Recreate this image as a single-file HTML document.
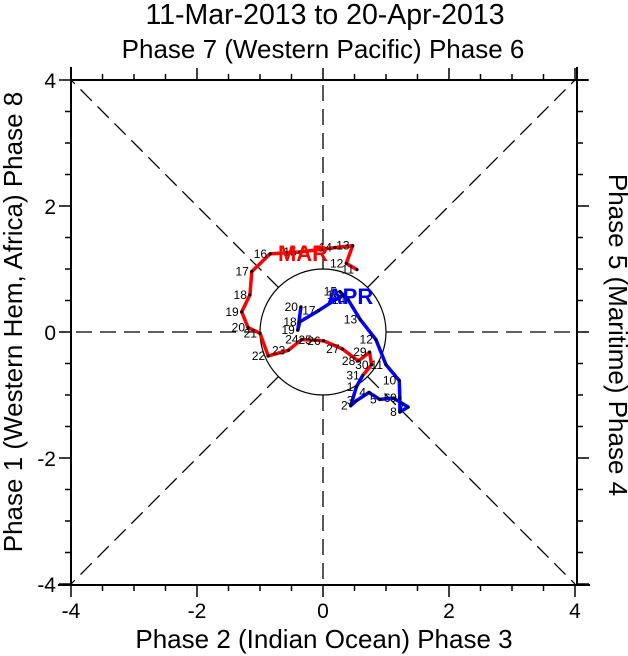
<!DOCTYPE html>
<html><head><meta charset="utf-8"><style>
body{margin:0;background:#fff}
svg{display:block;font-family:"Liberation Sans",sans-serif}
</style></head><body>
<svg id="c" width="628" height="656" viewBox="0 0 628 656">
<text x="325" y="24" font-size="28.5" text-anchor="middle">11-Mar-2013 to 20-Apr-2013</text>
<text x="323" y="58" font-size="26" text-anchor="middle">Phase 7 (Western Pacific) Phase 6</text>
<text x="324" y="648" font-size="26" text-anchor="middle">Phase 2 (Indian Ocean) Phase 3</text>
<text transform="translate(22,322) rotate(-90)" font-size="26" text-anchor="middle">Phase 1 (Western Hem, Africa) Phase 8</text>
<text transform="translate(609,335) rotate(90)" font-size="26" text-anchor="middle">Phase 5 (Maritime) Phase 4</text>
<g id="plot"></g>
</svg>
<script>
const marDays=[11,12,13,14,15,16,17,18,19,20,21,22,23,24,25,26,27,28,29,30,31];
const marX=[0.54,0.37,0.47,0.19,-0.37,-0.84,-1.13,-1.16,-1.29,-1.19,-1.00,-0.87,-0.55,-0.34,-0.13,0.01,0.31,0.56,0.74,0.77,0.63];
const marY=[0.99,1.09,1.37,1.34,1.27,1.24,0.96,0.59,0.32,0.07,-0.02,-0.38,-0.29,-0.12,-0.13,-0.14,-0.27,-0.46,-0.32,-0.52,-0.69];
const aprDays=[1,2,3,4,5,6,7,8,9,10,11,12,13,14,15,16,17,18,19,20];
const aprX=[0.53,0.44,0.53,0.73,0.90,1.12,1.35,1.22,1.22,1.21,1.00,0.84,0.59,0.40,0.27,0.32,-0.07,-0.37,-0.40,-0.35];
const aprY=[-0.87,-1.17,-1.09,-0.96,-1.07,-1.05,-1.19,-1.27,-1.05,-0.77,-0.52,-0.12,0.20,0.51,0.64,0.59,0.34,0.16,0.03,0.40];
const ticks=[-4,-2,0,2,4];
const NS="http://www.w3.org/2000/svg";
const X=v=>323+v*63, Y=v=>332-v*63;
const g=document.getElementById('plot');
function mk(t,a,p){const e=document.createElementNS(NS,t);for(const k in a)e.setAttribute(k,a[k]);(p||g).appendChild(e);return e;}
const dirs=[[1,0],[-1,0],[0,1],[0,-1],[1,1],[1,-1],[-1,1],[-1,-1]];
dirs.forEach(d=>{const n=Math.hypot(d[0],d[1]);
const l=mk('line',{x1:X(d[0]/n),y1:Y(d[1]/n),x2:X(4*d[0]),y2:Y(4*d[1]),stroke:'#000','stroke-width':1.3,'stroke-dasharray':'16,8'});

});
const circ=mk('circle',{cx:X(0),cy:Y(0),r:63,fill:'none',stroke:'#000','stroke-width':1.2});


const fr=[[71,67,71,585],[71,80,588,80],[58,585,590,585],[577,67,577,585]];
fr.forEach(f=>{const l=mk('line',{x1:f[0],y1:f[1],x2:f[2],y2:f[3],stroke:'#000','stroke-width':2});

});
for(let v=-4;v<=4;v+=0.5){const maj=Number.isInteger(v)&&v%2===0;const L=maj?12:6;
mk('line',{x1:X(v),y1:585,x2:X(v),y2:585+L,stroke:'#000','stroke-width':1.5});
mk('line',{x1:X(v),y1:80,x2:X(v),y2:80-L,stroke:'#000','stroke-width':1.5});
mk('line',{x1:71,y1:Y(v),x2:71-L,y2:Y(v),stroke:'#000','stroke-width':1.5});
mk('line',{x1:577,y1:Y(v),x2:577+L,y2:Y(v),stroke:'#000','stroke-width':1.5});}
ticks.forEach(v=>{const t=mk('text',{x:X(v),y:618,'font-size':21,'text-anchor':'middle'});t.textContent=v;


const u=mk('text',{x:56,y:Y(v)+8,'font-size':21,'text-anchor':'end'});u.textContent=v;

});
function series(xs,ys,days,col,pre,name){
let d='';if(pre)d='M'+X(pre[0])+','+Y(pre[1])+'L';else d='M';
d+=xs.map((x,i)=>X(x)+','+Y(ys[i])).join('L');
const p=mk('path',{d:d,fill:'none',stroke:col,'stroke-width':3.5,'stroke-linejoin':'round'});


xs.forEach((x,i)=>{const c=mk('circle',{cx:X(x),cy:Y(ys[i]),r:1.6,fill:'#000'});


const t=mk('text',{x:X(x)-3,y:Y(ys[i])+4,'font-size':12,'text-anchor':'end'});t.textContent=days[i];

});}
series(marX,marY,marDays,'#f00',null,'march');
series(aprX,aprY,aprDays,'#00f',[marX[marX.length-1],marY[marY.length-1]],'april');
const m=mk('text',{x:303,y:261,'font-size':22,'font-weight':'bold',fill:'#f00','text-anchor':'middle'});m.textContent='MAR';


const a=mk('text',{x:350,y:304,'font-size':22,'font-weight':'bold',fill:'#00f','text-anchor':'middle'});a.textContent='APR';


</script>
</body></html>
